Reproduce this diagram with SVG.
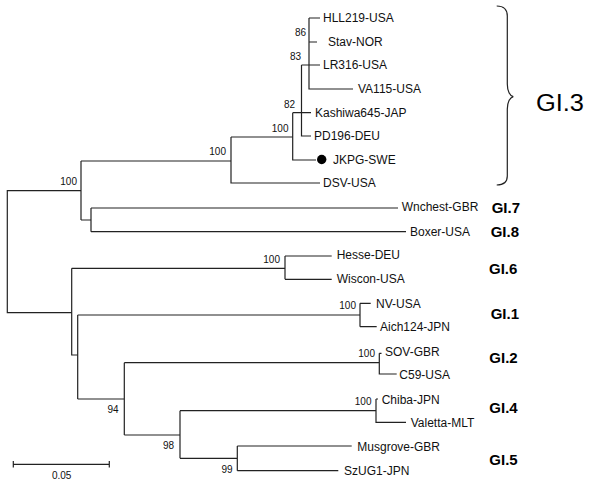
<svg xmlns="http://www.w3.org/2000/svg" width="600" height="487" viewBox="0 0 600 487">
<style>
.e{fill:none;stroke:#222;stroke-width:1.2}
.l{font-family:"Liberation Sans",Arial,sans-serif;font-size:12px;fill:#111}
.b{font-family:"Liberation Sans",Arial,sans-serif;font-size:10px;fill:#111;text-anchor:end}
.g{font-family:"Liberation Sans",Arial,sans-serif;font-size:15px;font-weight:bold;fill:#000}
</style>
<rect width="600" height="487" fill="#fff"/>
<g id="connectors">
<path class="e" d="M81,190.7H7.3V312.7H71.7"/>
<path class="e" d="M81,161V220M81,161H231M81,220H91"/>
<path class="e" d="M231,137V183H320M231,137H292.7"/>
<path class="e" d="M292.7,112.7V160H316M292.7,112.7H311"/>
<path class="e" d="M301.5,65V136H311M301.5,65H320"/>
<path class="e" d="M309,18V89H353M309,18H320M309,42H317"/>
<path class="e" d="M91,208V231.7M91,208H398M91,231.7H406"/>
<path class="e" d="M71.7,268.3V355H77.7M71.7,268.3H285M285,256V279.3M285,256H331.7M285,279.3H331.7"/>
<path class="e" d="M77.7,315V399M77.7,315H360M360,303.3V326.7M360,303.3H370.7M360,326.7H376.7"/>
<path class="e" d="M77.7,399H124.3M124.3,362.7V435M124.3,362.7H379.3M379.3,353.3V374H396.7M379.3,353.3H381.5"/>
<path class="e" d="M124.3,435H180M180,410.7V458.3M180,410.7H376M376,399V422.3H406M376,399H378"/>
<path class="e" d="M180,458.3H237.3M237.3,446V470.7M237.3,446H351.7M237.3,470.7H338.3"/>
</g>
<g id="leaves">
<g id="HLL219"><text class="l" x="323" y="22">HLL219-USA</text></g>
<g id="Stav"><text class="l" x="328" y="46">Stav-NOR</text></g>
<g id="LR316"><text class="l" x="323" y="69">LR316-USA</text></g>
<g id="VA115"><text class="l" x="358" y="93">VA115-USA</text></g>
<g id="Kashiwa645"><text class="l" x="315" y="117">Kashiwa645-JAP</text></g>
<g id="PD196"><text class="l" x="314" y="140">PD196-DEU</text></g>
<g id="JKPG"><circle cx="321.7" cy="159.5" r="4.7" fill="#000"/><text class="l" x="333" y="164">JKPG-SWE</text></g>
<g id="DSV"><text class="l" x="323" y="187">DSV-USA</text></g>
<g id="Wnchest"><text class="l" x="401.7" y="211">Wnchest-GBR</text></g>
<g id="Boxer"><text class="l" x="410" y="236">Boxer-USA</text></g>
<g id="Hesse"><text class="l" x="336.7" y="259">Hesse-DEU</text></g>
<g id="Wiscon"><text class="l" x="336.7" y="282.5">Wiscon-USA</text></g>
<g id="NV"><text class="l" x="376" y="307.5">NV-USA</text></g>
<g id="Aich124"><text class="l" x="380" y="331">Aich124-JPN</text></g>
<g id="SOV"><text class="l" x="385" y="355.5">SOV-GBR</text></g>
<g id="C59"><text class="l" x="399.3" y="378.5">C59-USA</text></g>
<g id="Chiba"><text class="l" x="381.7" y="403.5">Chiba-JPN</text></g>
<g id="Valetta"><text class="l" x="410.7" y="426.5">Valetta-MLT</text></g>
<g id="Musgrove"><text class="l" x="357.3" y="450.5">Musgrove-GBR</text></g>
<g id="SzUG1"><text class="l" x="344" y="474.5">SzUG1-JPN</text></g>
</g>
<g id="bootstrap">
<g id="n86"><text class="b" x="306" y="36">86</text></g>
<g id="n83"><text class="b" x="301" y="59.5">83</text></g>
<g id="n82"><text class="b" x="295" y="107.5">82</text></g>
<g id="n100a"><text class="b" x="288.5" y="131.5">100</text></g>
<g id="n100b"><text class="b" x="226" y="155">100</text></g>
<g id="n100c"><text class="b" x="77" y="185">100</text></g>
<g id="n100d"><text class="b" x="280" y="262.5">100</text></g>
<g id="n100e"><text class="b" x="356" y="308.5">100</text></g>
<g id="n100f"><text class="b" x="375" y="356.5">100</text></g>
<g id="n100g"><text class="b" x="371.5" y="404.5">100</text></g>
<g id="n94"><text class="b" x="118.5" y="413">94</text></g>
<g id="n98"><text class="b" x="174" y="449">98</text></g>
<g id="n99"><text class="b" x="232.5" y="472.5">99</text></g>
</g>
<g id="genogroups">
<g id="GI3"><path class="e" d="M496.7,6C503,6 507.3,9 507.3,16V84C507.3,91 510,96 513.3,96.7C510,97.5 507.3,102 507.3,109V176C507.3,182 503,185 496.7,185"/><text x="536" y="110.5" font-family="Liberation Sans,Arial,sans-serif" font-size="23" textLength="48" lengthAdjust="spacingAndGlyphs" fill="#000">GI.3</text></g>
<g id="GI7"><text class="g" x="491.7" y="212.5">GI.7</text></g>
<g id="GI8"><text class="g" x="490.7" y="237">GI.8</text></g>
<g id="GI6"><text class="g" x="489" y="273.7">GI.6</text></g>
<g id="GI1"><text class="g" x="490.7" y="318.7">GI.1</text></g>
<g id="GI2"><text class="g" x="489.3" y="362.7">GI.2</text></g>
<g id="GI4"><text class="g" x="489.3" y="412.7">GI.4</text></g>
<g id="GI5"><text class="g" x="489.3" y="464.7">GI.5</text></g>
</g>
<g id="scalebar">
<path class="e" d="M13.3,464.3H109.3M13.3,461V467.6M109.3,461V467.6"/>
<text x="61.7" y="479" font-family="Liberation Sans,Arial,sans-serif" font-size="10" text-anchor="middle" fill="#111">0.05</text>
</g>
</svg>
